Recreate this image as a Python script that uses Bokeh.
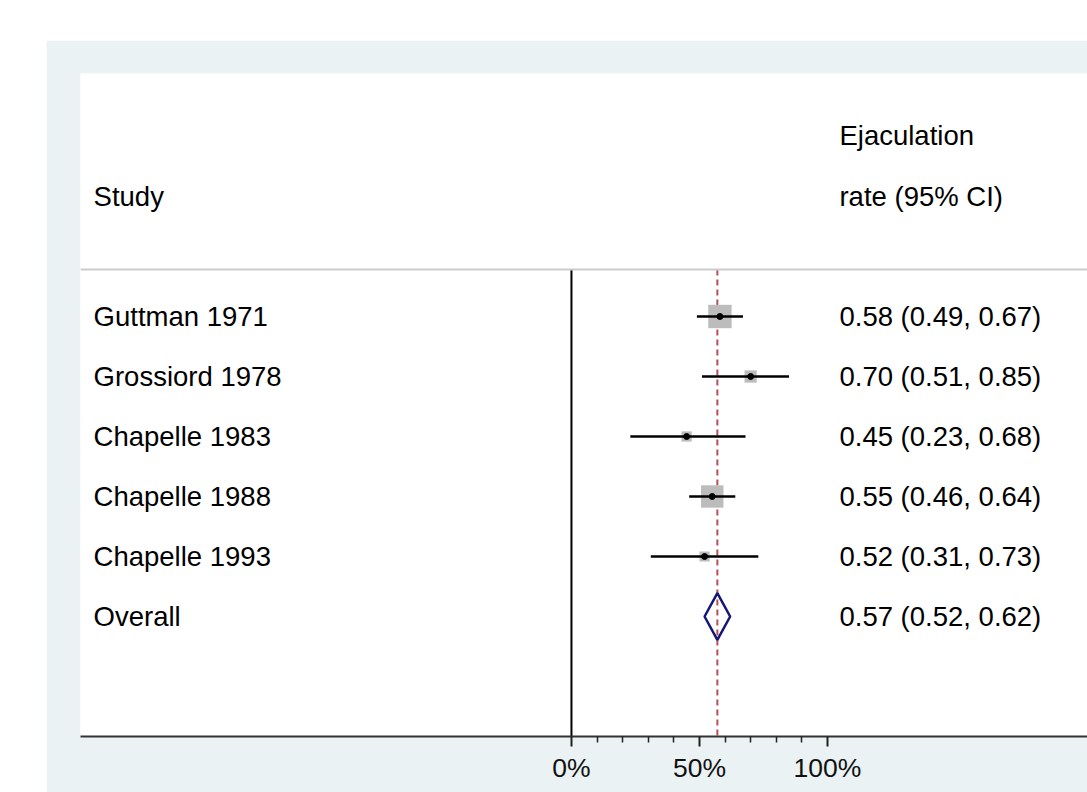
from bokeh.plotting import figure
from bokeh.models import Range1d, Span, FixedTicker, ColumnDataSource
from bokeh.core.properties import value
from bokeh.embed import file_html
from bokeh.resources import INLINE

# ---- data ----
studies = ["Guttman 1971", "Grossiord 1978", "Chapelle 1983", "Chapelle 1988", "Chapelle 1993"]
est = [0.58, 0.70, 0.45, 0.55, 0.52]
lci = [0.49, 0.51, 0.23, 0.46, 0.31]
uci = [0.67, 0.85, 0.68, 0.64, 0.73]
weights = [38.9, 10.6, 7.5, 35.6, 7.4]
overall_label = "Overall"
overall_est, overall_lci, overall_uci = 0.57, 0.52, 0.62
header_left = "Study"
header_right = ["Ejaculation", "rate (95% CI)"]
tick_values = [0.0, 0.5, 1.0]
tick_labels = ["0%", "50%", "100%"]
minor_values = [0.1, 0.2, 0.3, 0.4, 0.6, 0.7, 0.8, 0.9]

# ---- layout constants ----
FONT = "Liberation Sans"
BG = "#EAF2F3"
TXT = "27.5px"
rows = list(range(1, len(studies) + 1))
overall_row = len(studies) + 1
x_left_text = -1.867
x_right_text = 1.047
sep_y = 0.217
y_bottom, y_top = 8.0, -3.05

def fmt(e, l, u):
    return f"{e:.2f} ({l:.2f}, {u:.2f})"

p = figure(width=1041, height=752, output_backend="svg", toolbar_location=None,
           x_range=Range1d(-1.918, 2.016), y_range=Range1d(y_bottom, y_top),
           min_border_left=34, min_border_right=0, min_border_top=33, min_border_bottom=56,
           margin=(40, 0, 0, 46))
p.background_fill_color = "white"
p.border_fill_color = BG
p.outline_line_color = None
p.grid.visible = False
p.yaxis.visible = False

ax = p.xaxis[0]
ax.ticker = FixedTicker(ticks=tick_values, minor_ticks=minor_values)
ax.major_label_overrides = {t: l for t, l in zip(tick_values, tick_labels)}
ax.major_label_text_font = FONT
ax.major_label_text_font_size = "26.5px"
ax.major_label_text_color = "#111111"
ax.major_label_standoff = 6
ax.axis_line_color = "#333333"
ax.axis_line_width = 2
ax.major_tick_line_color = "#222222"
ax.major_tick_line_width = 2
ax.major_tick_out = 10
ax.major_tick_in = 0
ax.minor_tick_line_color = "#222222"
ax.minor_tick_line_width = 1.5
ax.minor_tick_out = 6
ax.minor_tick_in = 0

# header separator
p.add_layout(Span(location=sep_y, dimension="width", line_color="#cccccc", line_width=2))

# null line and overall dashed line
p.segment(x0=[0], y0=[sep_y], x1=[0], y1=[y_bottom], line_color="black", line_width=2)
p.segment(x0=[overall_est], y0=[sep_y], x1=[overall_est], y1=[y_bottom],
          line_color="#b5505a", line_width=2, line_dash="6 4")

src = ColumnDataSource(dict(y=rows, est=est, lci=lci, uci=uci,
                            size=[3.75 * w ** 0.5 for w in weights],
                            label=studies,
                            stat=[fmt(e, l, u) for e, l, u in zip(est, lci, uci)]))

p.scatter(x="est", y="y", size="size", marker="square", source=src,
          fill_color="#bcbcbc", line_color=None)
p.segment(x0="lci", y0="y", x1="uci", y1="y", source=src, line_color="black", line_width=2.5)
p.scatter(x="est", y="y", size=6, source=src, fill_color="black", line_color="black")

# overall diamond
dh = 0.39
p.patch(x=[overall_lci, overall_est, overall_uci, overall_est],
        y=[overall_row, overall_row - dh, overall_row, overall_row + dh],
        fill_alpha=0, line_color="#161676", line_width=2.5)

# texts
p.text(x=x_left_text, y="y", text="label", source=src, text_font=value(FONT),
       text_font_size=value(TXT), text_baseline="middle", text_color="black")
p.text(x=x_right_text, y="y", text="stat", source=src, text_font=value(FONT),
       text_font_size=value(TXT), text_baseline="middle", text_color="black")
p.text(x=[x_left_text, x_right_text], y=[overall_row, overall_row],
       text=[overall_label, fmt(overall_est, overall_lci, overall_uci)],
       text_font=value(FONT), text_font_size=value(TXT), text_baseline="middle",
       text_color="black")
p.text(x=[x_left_text, x_right_text, x_right_text], y=[-1.0, -2.017, -1.0],
       text=[header_left] + header_right,
       text_font=value(FONT), text_font_size=value(TXT), text_baseline="middle",
       text_color="black")

open("out.html", "w").write(file_html(p, INLINE))
